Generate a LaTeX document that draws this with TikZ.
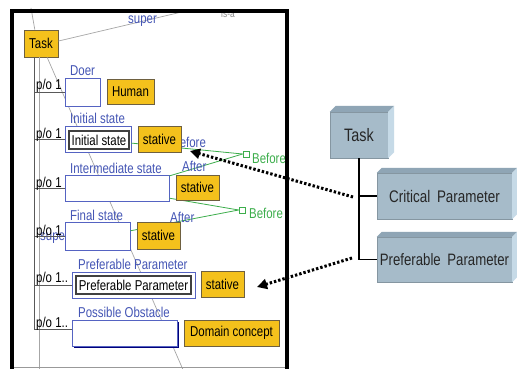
\documentclass[tikz,border=0pt]{standalone}
\usepackage{fontspec}
\setmainfont[FakeStretch=0.8]{Liberation Sans}
\usetikzlibrary{arrows.meta,calc}
\definecolor{gold}{HTML}{F4C11C}
\definecolor{goldedge}{HTML}{6E6040}
\definecolor{slotblue}{HTML}{5563C2}
\definecolor{lblblue}{HTML}{4455B5}
\definecolor{grn}{HTML}{3DAE4C}
\definecolor{face}{HTML}{A6BBC9}
\definecolor{bevtop}{HTML}{8FA5B5}
\definecolor{bevside}{HTML}{C6DAE7}
\begin{document}
\begin{tikzpicture}[x=1pt,y=-1pt,
  font=\fontsize{14.3}{16}\selectfont,
  yel/.style={draw=goldedge, fill=gold, inner sep=0pt, line width=0.8pt},
  slot/.style={draw=slotblue, fill=white, inner sep=0pt, line width=0.9pt},
  inbox/.style={draw=black!75, fill=white, inner sep=0pt, line width=1.3pt},
  lbl/.style={text=lblblue, anchor=base west, inner sep=0pt},
  po/.style={anchor=base west, inner sep=0pt},
  grnline/.style={draw=grn, line width=0.8pt},
  sq/.style={draw=grn, fill=white, minimum size=6pt, inner sep=0pt, line width=0.8pt},
  glbl/.style={text=grn, anchor=west, inner sep=0pt},
  lgray/.style={draw=black!35, line width=0.7pt},
  dgray/.style={draw=black!65, line width=0.9pt},
  facebox/.style={fill=face, draw=face!80!black, line width=0.3pt, inner sep=0pt, text=black!85},
  dotarrow/.style={line width=3pt, dash pattern=on 2.4pt off 2pt, -{Triangle[length=10pt,width=10pt]}}
]
\useasboundingbox (0,0) rectangle (517,369);
\clip (0,0) rectangle (517,369);
\fill[white] (0,0) rectangle (517,369);

% ---------- left panel ----------
\node[text=black!45, anchor=base west, inner sep=0pt, font=\fontsize{10.5}{12}\selectfont] (isa) at (221,17.5) {is-a};

\node[yel, minimum width=34pt, minimum height=27pt] (taskL) at (41,43.5) {Task};

\coordinate (topA) at (31,8);
\coordinate (topB) at (186,11);
\coordinate (diagEnd) at (184,372);
\coordinate (vx) at (34,329);
\coordinate (vy) at (39,372);

\draw[lgray] (topA) -- (taskL.114);
\draw[lgray] (taskL.8) -- (topB);
\node[text=lblblue, anchor=base west, inner sep=0pt] (superT) at (128,24) {super};
\draw[lgray] (taskL.-66) -- (diagEnd);
\draw[lgray] (taskL.south -| vy) -- (vy);
\draw[dgray] (taskL.south -| vx) -- (vx);

% 'super' partly hidden behind the Final state slot
\node[lbl] (superB) at (40,240) {super};

% slots and labels
\node[slot, minimum width=35pt, minimum height=28pt] (doer) at (82.5,92) {};
\node[lbl] (doerL) at (70,76) {Doer};
\node[yel, minimum width=47pt, minimum height=25pt] (human) at (130.5,91.5) {Human};

\node[text=lblblue, anchor=base west, inner sep=0pt] (bef0) at (172,147.5) {Before};

\node[slot, minimum width=66pt, minimum height=26pt] (init) at (98,139) {};
\node[inbox, minimum width=60pt, minimum height=18pt] (initIn) at (99,140) {Initial state};
\node[lbl] (initL) at (70,124) {Initial state};

\node[slot, minimum width=104pt, minimum height=26pt] (inter) at (117,188) {};
\node[lbl] (interL) at (70,173) {Intermediate state};

\node[slot, minimum width=65pt, minimum height=28pt] (final) at (97.5,236) {};
\node[lbl] (finalL) at (70,220) {Final state};

\node[slot, minimum width=123pt, minimum height=26pt] (pref) at (133.5,285) {};
\node[inbox, minimum width=115pt, minimum height=18pt] (prefIn) at (133.5,285) {Preferable Parameter};
\node[lbl] (prefL) at (78,269) {Preferable Parameter};

\fill[black!20!blue!60!black] (73.5,322) rectangle (178.5,348);
\node[slot, minimum width=105pt, minimum height=26pt] (obst) at (124.5,333) {};
\node[lbl] (obstL) at (78,317) {Possible Obstacle};

% green relations
\node[sq] (sq1) at (246,154) {};
\node[sq] (sq2) at (242,210) {};
\draw[grnline] (init.-7) -- (sq1.west);
\draw[grnline] (inter.13) -- (sq1.west);
\draw[grnline] (inter.-11) -- (sq2.west);
\draw[grnline] (final.9) -- (sq2.west);
\node[glbl] (bef1) at (252,158) {Before};
\node[glbl] (bef2) at (249,213) {Before};
\node[text=lblblue, anchor=base west, inner sep=0pt] (aft1) at (182,171) {After};
\node[text=lblblue, anchor=base west, inner sep=0pt] (aft2) at (170,222) {After};

% stative / concept boxes
\node[yel, minimum width=43pt, minimum height=26pt] (st1) at (159.5,139) {stative};
\node[yel, minimum width=43pt, minimum height=25pt] (st2) at (197.5,187.5) {stative};
\node[yel, minimum width=43pt, minimum height=27pt] (st3) at (158.5,235.5) {stative};
\node[yel, minimum width=43pt, minimum height=26pt] (st4) at (222.5,284) {stative};
\node[yel, minimum width=95pt, minimum height=26pt] (dom) at (231.5,333) {Domain concept};

% part-of branches
\draw[dgray] (doer.west -| vx) -- (doer.west);
\draw[dgray] (init.west -| vx) -- (init.west);
\draw[dgray] (inter.west -| vx) -- (inter.west);
\draw[dgray] (final.west -| vx) -- (final.west);
\draw[dgray] (pref.west -| vx) -- (pref.west);
\draw[dgray] ($(obst.west -| vx)+(0,-4)$) -- ($(obst.west)+(0,-4)$);
\node[po] (po1) at (36,90) {p/o 1};
\node[po] (po2) at (36,138) {p/o 1};
\node[po] (po3) at (36,187) {p/o 1};
\node[po] (po4) at (36,235) {p/o 1};
\node[po] (po5) at (36,282) {p/o 1..};
\node[po] (po6) at (36,327) {p/o 1..};

% frame
\draw[black!40, line width=1pt] (12,367) -- (287,367);
\draw[line width=3.6pt] (12,372) -- (12,11) -- (287,11) -- (287,372);

% ---------- right panel ----------
\node[facebox, minimum width=58pt, minimum height=46pt, font=\fontsize{18}{20}\selectfont] (taskR) at (359,135) {Task};
\node[facebox, minimum width=135pt, minimum height=46pt, font=\fontsize{16.8}{18}\selectfont] (crit) at (444.5,196) {Critical\hspace{0.4em}Parameter};
\node[facebox, minimum width=135pt, minimum height=45pt, font=\fontsize{16.5}{18}\selectfont] (prefR) at (444.5,259.5) {Preferable\hspace{0.4em}Parameter};

\foreach \b/\d in {taskR/6, crit/5, prefR/5}{
  \fill[bevtop] (\b.north west) -- ++(\d,-\d) -- ($(\b.north east)+(\d,-\d)$) -- (\b.north east) -- cycle;
  \fill[bevside] (\b.north east) -- ++(\d,-\d) -- ($(\b.south east)+(\d,-\d)$) -- (\b.south east) -- cycle;
}

\draw[line width=1.2pt] (taskR.south) |- (crit.west);
\draw[line width=1.2pt] (taskR.south) |- (prefR.west);

% dotted arrows
\coordinate (d1s) at (353,197);
\coordinate (d1e) at (190,151);
\coordinate (d2s) at (352,258);
\coordinate (d2e) at (257,287);
\draw[dotarrow] (d1s) -- (d1e);
\draw[dotarrow] (d2s) -- (d2e);
\end{tikzpicture}
\end{document}
